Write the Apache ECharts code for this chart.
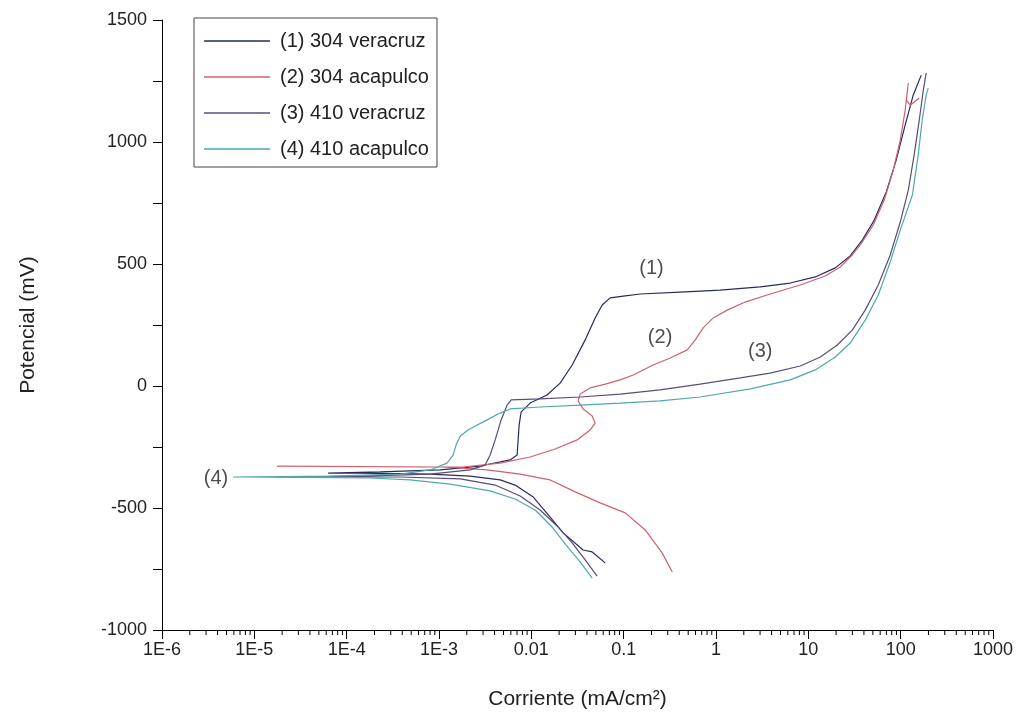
<!DOCTYPE html>
<html>
<head>
<meta charset="utf-8">
<title>Curvas de polarización</title>
<script src="https://cdn.jsdelivr.net/npm/echarts@6/dist/echarts.min.js"></script>
<style>
  html, body { margin: 0; background: #fff; }
  #chart { width: 1024px; height: 727px; }
</style>
</head>
<body>
<div id="chart"></div>
<script>
// nombres de las curvas
const seriesNames = ['(1) 304 veracruz', '(2) 304 acapulco', '(3) 410 veracruz', '(4) 410 acapulco']
const seriesColors = ['#262d5c', '#d0606e', '#5b4c78', '#4fa9ab']

// [corriente mA/cm2, potencial mV]
const veracruz304 = [
  [0.0631, -725], [0.0456, -680], [0.0364, -672], [0.0221, -602], [0.016, -537], [0.0105, -455],
  [0.00667, -406], [0.00459, -385], [0.00217, -369], [8.0e-4, -361], [1.4e-4, -357], [6.3e-5, -357],
  [2.3e-4, -352], [1.03e-3, -344], [0.00279, -328], [0.00589, -303], [0.00702, -283], [0.00719, -221],
  [0.00738, -160], [0.00774, -107], [0.0097, -70], [0.0148, -37], [0.0205, 12], [0.0277, 86],
  [0.0383, 189], [0.0491, 279], [0.0585, 332], [0.0714, 361], [0.104, 369], [0.151, 377], [0.409, 385],
  [1.11, 393], [3.01, 406], [6.37, 422], [11.9, 447], [19.6, 484], [28.4, 533], [38.4, 598], [51.8, 680],
  [69.8, 795], [89.5, 926], [112, 1070], [137, 1193], [167, 1274]
]
const acapulco304 = [
  [0.336, -762], [0.261, -684], [0.171, -590], [0.104, -520], [0.0556, -479], [0.0299, -434],
  [0.016, -385], [0.00757, -361], [0.00332, -344], [0.0017, -336], [0.00103, -332], [1.76e-5, -328],
  [6.24e-4, -332], [0.00182, -332], [0.00459, -316], [0.0097, -291], [0.0181, -258], [0.0313, -221],
  [0.0434, -180], [0.0491, -152], [0.0456, -123], [0.0364, -94], [0.0321, -61], [0.0338, -33],
  [0.0434, -8], [0.0631, 8], [0.0916, 25], [0.127, 45], [0.209, 86], [0.319, 115], [0.488, 148],
  [0.596, 189], [0.726, 238], [0.933, 279], [1.32, 311], [2.07, 344], [3.86, 377], [8.17, 414],
  [15.2, 451], [22.2, 488], [29.9, 537], [38.4, 590], [50.5, 660], [66.4, 762], [83.2, 885], [99, 1008],
  [112, 1131], [121, 1242], [115, 1172], [127, 1151], [159, 1180]
]
const veracruz410 = [
  [0.0516, -779], [0.0383, -713], [0.0277, -643], [0.0195, -578], [0.01245, -508], [0.00757, -451],
  [0.00406, -406], [0.0017, -381], [3.8e-4, -373], [1.81e-5, -373], [1.4e-4, -369], [8.0e-4, -361],
  [0.00217, -344], [0.00316, -324], [0.00358, -283], [0.00406, -221], [0.00471, -139], [0.00547, -78],
  [0.00604, -57], [0.01245, -53], [0.0338, -45], [0.0916, -33], [0.248, -16], [0.674, 8], [1.83, 33],
  [3.86, 53], [8.17, 82], [13.5, 119], [20.6, 168], [29.9, 229], [41.3, 311], [57.2, 414], [77.1, 537],
  [99, 672], [121, 803], [140, 947], [159, 1090], [176, 1213], [189, 1283]
]
const acapulco410 = [
  [0.0456, -787], [0.0338, -721], [0.0238, -652], [0.0168, -578], [0.011, -508], [0.00667, -463],
  [0.00358, -430], [0.00132, -402], [4.86e-4, -385], [1.8e-4, -377], [5.87e-6, -373], [6.6e-5, -369],
  [3.8e-4, -361], [8.0e-4, -344], [0.00122, -316], [0.00142, -283], [0.00153, -242], [0.0017, -205],
  [0.00206, -180], [0.00316, -143], [0.00459, -111], [0.00589, -94], [0.01245, -86], [0.0338, -78],
  [0.0916, -70], [0.248, -61], [0.674, -45], [2.35, -12], [6.37, 25], [11.9, 66], [19.6, 119],
  [28.4, 176], [41.3, 270], [57.2, 373], [77.1, 508], [99, 639], [134, 783], [155, 947], [171, 1090],
  [189, 1193], [199, 1221]
]

// etiquetas (1)..(4) sobre la gráfica
const annotations = [
  { name: '(1)', value: [0.2, 480] },
  { name: '(2)', value: [0.248, 197] },
  { name: '(3)', value: [3.01, 143] },
  { name: '(4)', value: [3.85e-6, -381] }
]

// marcas menores del eje log
const decades = [-6, -5, -4, -3, -2, -1, 0, 1, 2]
const minorSteps = [2, 3, 4, 5, 6, 7, 8, 9]
const minorTicks = []
decades.forEach(d => minorSteps.forEach(m => minorTicks.push([m * Math.pow(10, d), -1000])))

const font = 'Liberation Sans, Arial, sans-serif'
const chart = echarts.init(document.getElementById('chart'))

const lineSeries = [veracruz304, acapulco304, veracruz410, acapulco410].map((data, i) => ({
  name: seriesNames[i],
  type: 'line',
  data: data,
  showSymbol: false,
  symbol: 'none',
  color: seriesColors[i],
  lineStyle: { width: 1.2, color: seriesColors[i] },
  z: 3
}))

const formatLog = v => {
  const e = Math.round(Math.log10(v))
  if (e <= -3) return '1E' + e
  if (e < 0) return v.toFixed(-e)
  return String(Math.round(Math.pow(10, e)))
}

chart.setOption({
  backgroundColor: '#fff',
  animation: false,
  grid: { left: 162, right: 31, top: 20, bottom: 97 },
  legend: {
    data: seriesNames.map(n => ({ name: n, icon: 'rect' })),
    orient: 'vertical',
    left: 194,
    top: 18,
    itemWidth: 66,
    itemHeight: 1.5,
    itemGap: 14,
    borderColor: '#444',
    borderWidth: 1,
    padding: [12, 8, 7, 10],
    textStyle: { fontSize: 20, lineHeight: 22, color: '#222', fontFamily: font, padding: [0, 0, 0, 5] }
  },
  xAxis: {
    type: 'log',
    logBase: 10,
    min: 1e-6,
    max: 1000,
    splitNumber: 9,
    name: 'Corriente (mA/cm²)',
    nameLocation: 'middle',
    nameGap: 59,
    nameTextStyle: { fontSize: 21, color: '#222', fontFamily: font },
    axisLine: { onZero: false, lineStyle: { color: '#000', width: 1 } },
    axisTick: { length: 9, lineStyle: { color: '#000' } },
    axisLabel: { fontSize: 18, color: '#222', fontFamily: font, margin: 11, formatter: formatLog },
    splitLine: { show: false }
  },
  yAxis: {
    type: 'value',
    min: -1000,
    max: 1500,
    interval: 500,
    name: 'Potencial (mV)',
    nameLocation: 'middle',
    nameGap: 123,
    nameTextStyle: { fontSize: 21, color: '#222', fontFamily: font },
    axisLine: { show: true, onZero: false, lineStyle: { color: '#000', width: 1 } },
    axisTick: { show: true, length: 9, lineStyle: { color: '#000' } },
    minorTick: { show: true, splitNumber: 2, length: 9, lineStyle: { color: '#000' } },
    axisLabel: { fontSize: 18, color: '#222', fontFamily: font, margin: 15, formatter: v => String(v) },
    splitLine: { show: false }
  },
  series: lineSeries.concat([
    {
      type: 'custom',
      data: minorTicks,
      silent: true,
      clip: false,
      renderItem: (params, api) => {
        const p = api.coord([api.value(0), api.value(1)])
        return {
          type: 'line',
          shape: { x1: p[0], y1: p[1], x2: p[0], y2: p[1] + 5 },
          style: { stroke: '#000', lineWidth: 1 }
        }
      }
    },
    {
      type: 'scatter',
      data: annotations,
      symbolSize: 1,
      itemStyle: { color: 'rgba(0,0,0,0)' },
      silent: true,
      label: {
        show: true,
        position: 'inside',
        formatter: p => p.name,
        fontSize: 20,
        color: '#222',
        fontFamily: font
      }
    }
  ])
})
</script>
</body>
</html>
